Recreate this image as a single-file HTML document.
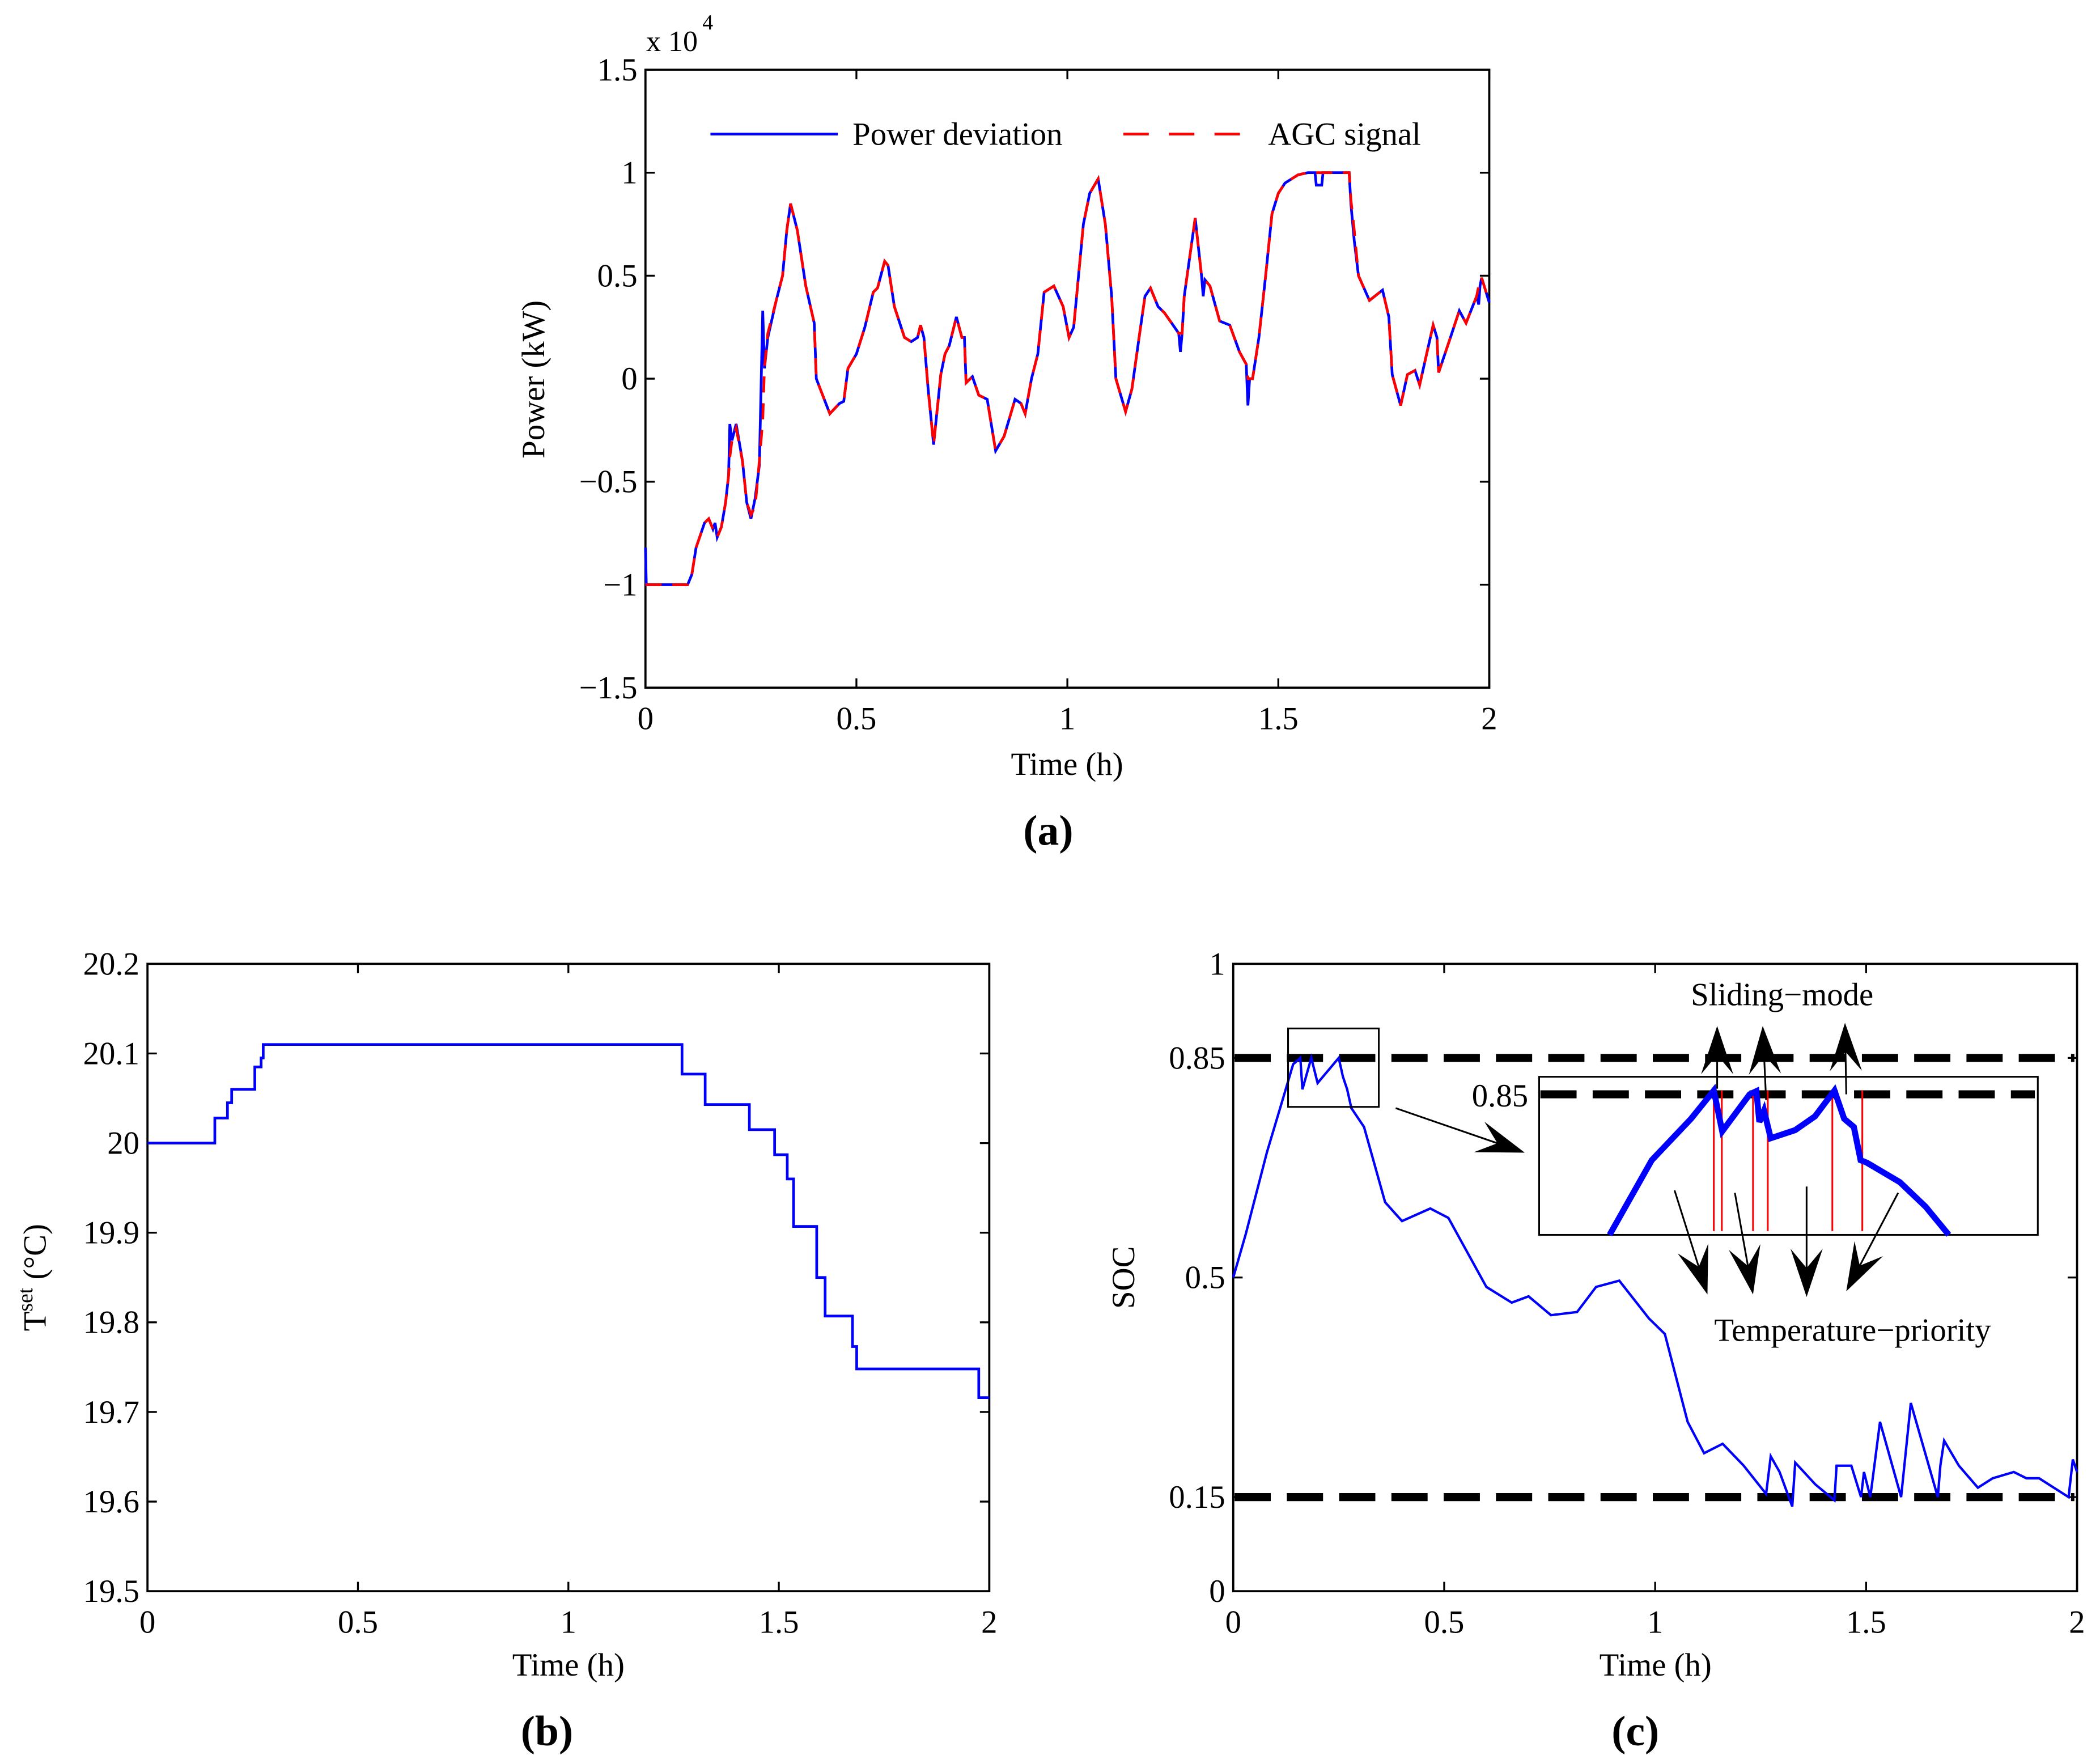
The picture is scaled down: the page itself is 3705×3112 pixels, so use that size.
<!DOCTYPE html>
<html><head><meta charset="utf-8"><style>
html,body{margin:0;padding:0;background:#fff}
svg{display:block}
text{font-family:"Liberation Serif",serif;fill:#000}
</style></head><body>
<svg id="fig" width="3705" height="3112" viewBox="0 0 1566.6 1315.9" xmlns="http://www.w3.org/2000/svg"></svg>
<script>
// ---------- Panel (a) data ----------
const powerTime=[0,0.002,0.1,0.11,0.12,0.14,0.15,0.16,0.165,0.17,0.18,0.19,0.197,0.2,0.205,0.215,0.23,0.24,0.25,0.26,0.27,0.278,0.282,0.29,0.31,0.325,0.335,0.344,0.36,0.38,0.4,0.405,0.42,0.437,0.46,0.47,0.48,0.5,0.52,0.54,0.55,0.567,0.575,0.59,0.614,0.63,0.645,0.652,0.66,0.67,0.683,0.7,0.71,0.72,0.737,0.75,0.756,0.76,0.775,0.79,0.81,0.83,0.85,0.876,0.89,0.9,0.915,0.93,0.945,0.968,0.99,1.004,1.015,1.038,1.053,1.073,1.09,1.105,1.115,1.138,1.153,1.17,1.184,1.197,1.215,1.23,1.254,1.264,1.268,1.272,1.277,1.303,1.318,1.322,1.326,1.338,1.361,1.385,1.408,1.424,1.428,1.432,1.439,1.454,1.47,1.485,1.5,1.516,1.547,1.57,1.587,1.59,1.603,1.606,1.668,1.672,1.68,1.69,1.716,1.747,1.762,1.77,1.79,1.806,1.824,1.835,1.867,1.876,1.88,1.908,1.929,1.945,1.97,1.975,1.978,1.982,2.0];
const powerDeviation=[-0.82,-1,-1,-0.95,-0.82,-0.70,-0.68,-0.73,-0.70,-0.77,-0.72,-0.60,-0.47,-0.22,-0.30,-0.22,-0.40,-0.60,-0.68,-0.58,-0.42,0.33,0.05,0.20,0.38,0.5,0.72,0.85,0.72,0.45,0.27,0.0,-0.08,-0.17,-0.12,-0.11,0.05,0.12,0.25,0.42,0.44,0.57,0.55,0.35,0.2,0.18,0.2,0.26,0.2,-0.05,-0.32,0.02,0.12,0.16,0.3,0.2,0.2,-0.02,0.01,-0.08,-0.10,-0.35,-0.28,-0.1,-0.12,-0.17,0.0,0.12,0.42,0.45,0.35,0.2,0.25,0.75,0.9,0.97,0.75,0.4,0.0,-0.16,-0.05,0.2,0.4,0.44,0.35,0.32,0.25,0.22,0.13,0.22,0.4,0.78,0.5,0.4,0.48,0.45,0.28,0.26,0.13,0.07,-0.13,0.0,0.0,0.2,0.5,0.8,0.9,0.95,0.99,1.0,1.0,0.94,0.94,1.0,1.0,0.85,0.67,0.5,0.38,0.43,0.3,0.02,-0.13,0.02,0.04,-0.03,0.26,0.2,0.03,0.2,0.33,0.27,0.4,0.36,0.45,0.49,0.37];
const agcSignal=[-1,-1,-1,-0.95,-0.82,-0.70,-0.68,-0.73,-0.75,-0.77,-0.72,-0.60,-0.47,-0.38,-0.30,-0.24,-0.40,-0.60,-0.66,-0.62,-0.40,-0.2,0.05,0.22,0.38,0.5,0.72,0.85,0.72,0.45,0.27,0.0,-0.08,-0.17,-0.12,-0.11,0.05,0.12,0.25,0.42,0.44,0.57,0.55,0.35,0.2,0.18,0.2,0.26,0.2,-0.05,-0.32,0.02,0.12,0.16,0.3,0.2,0.2,-0.02,0.01,-0.08,-0.10,-0.35,-0.28,-0.1,-0.12,-0.17,0.0,0.12,0.42,0.45,0.35,0.2,0.25,0.75,0.9,0.97,0.75,0.4,0.0,-0.16,-0.05,0.2,0.4,0.44,0.35,0.32,0.25,0.22,0.22,0.22,0.4,0.78,0.5,0.48,0.48,0.45,0.28,0.26,0.13,0.07,0.0,0.0,0.0,0.2,0.5,0.8,0.9,0.95,0.99,1.0,1.0,1.0,1.0,1.0,1.0,0.87,0.72,0.5,0.38,0.43,0.3,0.02,-0.13,0.02,0.04,-0.03,0.26,0.2,0.03,0.2,0.33,0.27,0.4,0.45,0.45,0.49,0.37];
const xTickLabels=["0","0.5","1","1.5","2"];
const xTickValues=[0,0.5,1,1.5,2];
const powerTickValues=[-1.5,-1,-0.5,0,0.5,1,1.5];
const powerTickLabels=["\u22121.5","\u22121","\u22120.5","0","0.5","1","1.5"];
// ---------- Panel (b) data ----------
const tsetTime=[0,0.16,0.19,0.2,0.255,0.27,0.275,1.27,1.325,1.43,1.49,1.52,1.535,1.59,1.61,1.675,1.685,1.975,2.0];
const tsetValue=[20,20.028,20.045,20.06,20.085,20.095,20.11,20.077,20.043,20.015,19.987,19.96,19.907,19.85,19.807,19.773,19.748,19.716,19.716];
const tsetTickValues=[19.5,19.6,19.7,19.8,19.9,20,20.1,20.2];
const tsetTickLabels=["19.5","19.6","19.7","19.8","19.9","20","20.1","20.2"];
// ---------- Panel (c) data ----------
const socTime=[0,0.03,0.08,0.12,0.142,0.159,0.164,0.185,0.2,0.25,0.26,0.27,0.28,0.31,0.36,0.40,0.467,0.51,0.6,0.66,0.7,0.753,0.815,0.86,0.915,0.985,1.023,1.077,1.116,1.16,1.21,1.263,1.274,1.295,1.325,1.332,1.38,1.425,1.43,1.465,1.488,1.495,1.51,1.533,1.583,1.606,1.67,1.676,1.685,1.72,1.765,1.8,1.85,1.88,1.91,1.98,1.99,2.0];
const socValue=[0.5,0.57,0.70,0.79,0.84,0.85,0.80,0.85,0.81,0.85,0.82,0.80,0.77,0.74,0.62,0.59,0.61,0.595,0.485,0.46,0.47,0.44,0.445,0.485,0.495,0.435,0.41,0.27,0.22,0.235,0.2,0.155,0.215,0.19,0.135,0.205,0.17,0.145,0.2,0.2,0.15,0.19,0.15,0.27,0.15,0.30,0.15,0.2,0.24,0.2,0.165,0.18,0.19,0.18,0.18,0.15,0.21,0.19];
const socLimits=[0.15,0.85];
const socTickValues=[0,0.15,0.5,0.85,1];
const socTickLabels=["0","0.15","0.5","0.85","1"];
const insetTime=[0.892,0.992,1.085,1.139,1.159,1.224,1.240,1.247,1.258,1.274,1.332,1.379,1.425,1.448,1.471,1.487,1.502,1.580,1.641,1.696];
const insetValue=[0.568,0.687,0.753,0.798,0.733,0.792,0.797,0.748,0.766,0.722,0.735,0.757,0.798,0.753,0.740,0.687,0.683,0.652,0.613,0.568];
const switchTimes=[1.139,1.158,1.232,1.267,1.420,1.491];

const NS="http://www.w3.org/2000/svg";
const svg=document.getElementById('fig');
function mk(tag,attrs,parent){const e=document.createElementNS(NS,tag);for(const k in attrs)e.setAttribute(k,attrs[k]);(parent||svg).appendChild(e);return e;}
function txt(s,x,y,size,anchor,parent,extra){const e=mk('text',Object.assign({x:x,y:y,'font-size':size,'text-anchor':anchor||'middle'},extra||{}),parent);e.textContent=s;return e;}
function axes(x0,x1,y0,y1,xmin,xmax,ymin,ymax){return{sx:v=>x0+(v-xmin)/(xmax-xmin)*(x1-x0),sy:v=>y1-(v-ymin)/(ymax-ymin)*(y1-y0),x0,x1,y0,y1};}
function frame(A,g,yT,yL){
  const r=mk('rect',{x:A.x0,y:A.y0,width:A.x1-A.x0,height:A.y1-A.y0,fill:'none',stroke:'#000','stroke-width':1.6},g);
  
  xTickValues.forEach((v,i)=>{const x=A.sx(v);
    mk('line',{x1:x,y1:A.y1,x2:x,y2:A.y1-7,stroke:'#000','stroke-width':1.4},g);
    mk('line',{x1:x,y1:A.y0,x2:x,y2:A.y0+7,stroke:'#000','stroke-width':1.4},g);
    const t=txt(xTickLabels[i],x,A.y1+31,24,'middle',g);
    });
  yT.forEach((v,i)=>{const y=A.sy(v);
    mk('line',{x1:A.x0,y1:y,x2:A.x0+7,y2:y,stroke:'#000','stroke-width':1.4},g);
    mk('line',{x1:A.x1,y1:y,x2:A.x1-7,y2:y,stroke:'#000','stroke-width':1.4},g);
    const t=txt(yL[i],A.x0-6,y+8,24,'end',g);
    });
}
function linePath(A,ts,vs){return ts.map((t,i)=>(i?'L':'M')+A.sx(t).toFixed(2)+' '+A.sy(vs[i]).toFixed(2)).join(' ');}
function stepPath(A,ts,vs){let d='M'+A.sx(ts[0])+' '+A.sy(vs[0]);for(let i=1;i<ts.length;i++){d+=' L'+A.sx(ts[i])+' '+A.sy(vs[i-1])+' L'+A.sx(ts[i])+' '+A.sy(vs[i]);}return d;}
function arrow(A,t0,v0,t1,v1,g,len,wid){
  const x0=A.sx(t0),y0=A.sy(v0),x1=A.sx(t1),y1=A.sy(v1);
  const dx=x1-x0,dy=y1-y0,L=Math.hypot(dx,dy),ux=dx/L,uy=dy/L,px=-uy,py=ux;
  mk('line',{x1:x0,y1:y0,x2:x1-ux*len*0.6,y2:y1-uy*len*0.6,stroke:'#000','stroke-width':1.3},g);
  const bx=x1-ux*len,by=y1-uy*len,nx=x1-ux*len*0.6,ny=y1-uy*len*0.6;
  mk('polygon',{points:`${x1},${y1} ${bx+px*wid/2},${by+py*wid/2} ${nx},${ny} ${bx-px*wid/2},${by-py*wid/2}`,fill:'#000'},g);
}

// ---------- Panel (a) ----------
const gA=mk('g',{});
const A=axes(481.5,1111,52,513,0,2,-1.5,1.5);
frame(A,gA,powerTickValues,powerTickLabels);
const pd=mk('path',{d:linePath(A,powerTime,powerDeviation),fill:'none',stroke:'#0000ff','stroke-width':2},gA);

const ag=mk('path',{d:linePath(A,powerTime,agcSignal),fill:'none',stroke:'#ff0000','stroke-width':2,'stroke-dasharray':'12 8'},gA);

const lg=mk('g',{},gA);
mk('line',{x1:530,y1:100,x2:625,y2:100,stroke:'#0000ff','stroke-width':2},lg);
txt('Power deviation',636,108,24,'start',lg);
mk('line',{x1:838,y1:100,x2:933,y2:100,stroke:'#ff0000','stroke-width':2,'stroke-dasharray':'19 15'},lg);
txt('AGC signal',946,108,24,'start',lg);
const ex=txt('x 10',482,38,22,'start',gA);
txt('4',524,22,16,'start',gA);
const ya=txt('Power (kW)',0,0,24,'middle',gA,{transform:'translate(406,283) rotate(-90)'});
const xa=txt('Time (h)',796,578,24,'middle',gA);
const ca=txt('(a)',782,630,32,'middle',gA,{'font-weight':'bold'});

// ---------- Panel (b) ----------
const gB=mk('g',{});
const B=axes(110,738,719,1187,0,2,19.5,20.2);
frame(B,gB,tsetTickValues,tsetTickLabels);
const tp=mk('path',{d:stepPath(B,tsetTime,tsetValue),fill:'none',stroke:'#0000ff','stroke-width':2},gB);

const yb=mk('text',{transform:'translate(34,953) rotate(-90)','font-size':24,'text-anchor':'middle'},gB);

yb.innerHTML='T<tspan dy="-10" font-size="16">set</tspan><tspan dy="10"> (°C)</tspan>';
const xb=txt('Time (h)',424,1250,24,'middle',gB);
const cb=txt('(b)',408,1302,32,'middle',gB,{'font-weight':'bold'});

// ---------- Panel (c) ----------
const gC=mk('g',{});
const C=axes(920,1549.5,719,1187,0,2,0,1);
frame(C,gC,socTickValues,socTickLabels);
socLimits.forEach(v=>{const l=mk('line',{x1:C.x0+1,y1:C.sy(v),x2:C.x1-2,y2:C.sy(v),stroke:'#000','stroke-width':6,'stroke-dasharray':'27 12'},gC);
  });
const sp=mk('path',{d:linePath(C,socTime,socValue),fill:'none',stroke:'#0000ff','stroke-width':1.8},gC);

const zb=mk('rect',{x:C.sx(0.130),y:C.sy(0.897),width:C.sx(0.345)-C.sx(0.130),height:C.sy(0.772)-C.sy(0.897),fill:'none',stroke:'#000','stroke-width':1.3},gC);

const ig=mk('g',{},gC);
mk('rect',{x:C.sx(0.725),y:C.sy(0.82),width:C.sx(1.907)-C.sx(0.725),height:C.sy(0.568)-C.sy(0.82),fill:'#fff',stroke:'#000','stroke-width':1.3},ig);
mk('line',{x1:C.sx(0.728),y1:C.sy(0.792),x2:C.sx(1.90),y2:C.sy(0.792),stroke:'#000','stroke-width':6,'stroke-dasharray':'27 12'},ig);
txt('0.85',C.sx(0.699),C.sy(0.792)+9,24,'end',ig);
switchTimes.forEach(t=>{const l=mk('line',{x1:C.sx(t),y1:C.sy(0.798),x2:C.sx(t),y2:C.sy(0.574),stroke:'#ff0000','stroke-width':1.3},ig);
  });
mk('path',{d:linePath(C,insetTime,insetValue),fill:'none',stroke:'#0000ff','stroke-width':4.5},ig);
arrow(C,0.385,0.770,0.691,0.699,gC,36,24);
[[1.147,0.801,1.147,0.901],[1.263,0.783,1.255,0.901],[1.453,0.792,1.450,0.906],
 [1.046,0.639,1.124,0.473],[1.189,0.635,1.232,0.473],[1.359,0.645,1.359,0.469],[1.576,0.635,1.453,0.478]]
 .forEach(a=>arrow(C,a[0],a[1],a[2],a[3],gC,36,24));
const sl=txt('Sliding\u2212mode',C.sx(1.301),C.sy(0.934),24,'middle',gC);
const tpa=txt('Temperature\u2212priority',C.sx(1.468),C.sy(0.399),24,'middle',gC);
const yc=txt('SOC',0,0,24,'middle',gC,{transform:'translate(846,953) rotate(-90)'});
const xc=txt('Time (h)',1235,1250,24,'middle',gC);
const cc=txt('(c)',1220,1302,32,'middle',gC,{'font-weight':'bold'});
</script>
</body></html>
